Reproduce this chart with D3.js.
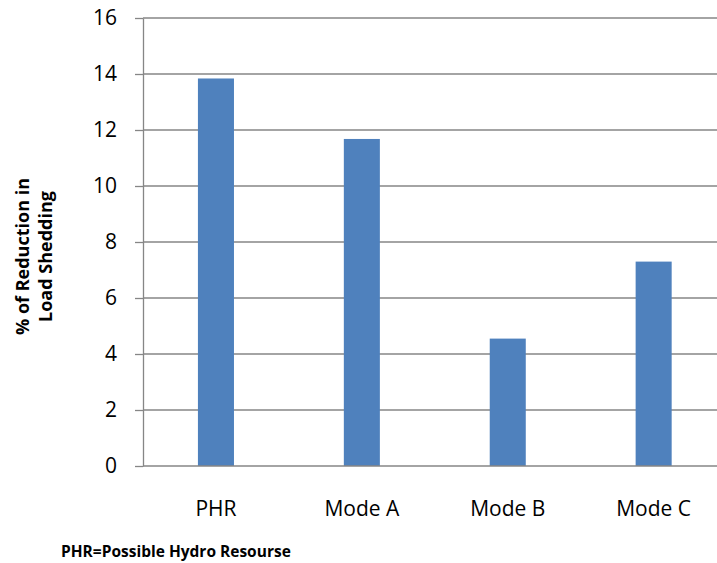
<!DOCTYPE html>
<html>
<head>
<meta charset="utf-8">
<script src="https://cdn.jsdelivr.net/npm/d3@7"></script>
<style>
  html, body { margin: 0; padding: 0; background: #fff; }
  svg { display: block; }
  text { font-family: "Open Sans", "Liberation Sans", sans-serif; fill: #000; }
</style>
</head>
<body>
<script>
// Reduction in load shedding per operating mode
const categories = ["PHR", "Mode A", "Mode B", "Mode C"];
const reduction = [13.84, 11.68, 4.55, 7.3];
const yTicks = [0, 2, 4, 6, 8, 10, 12, 14, 16];
const yTitleLines = ["% of Reduction in", "Load Shedding"];
const footnote = "PHR=Possible Hydro Resourse";

const width = 717, height = 563;
const plot = { left: 143, right: 726.6, top: 18, bottom: 466 };

const svg = d3.select("body").append("svg")
  .attr("width", width).attr("height", height);

const x = d3.scaleBand()
  .domain(categories)
  .range([plot.left, plot.right])
  .paddingInner(0.753)
  .paddingOuter(0.3765);

const y = d3.scaleLinear()
  .domain([0, 16])
  .range([plot.bottom, plot.top]);

const gridColor = "#868686";

// horizontal gridlines
svg.append("g")
  .selectAll("line")
  .data(yTicks.filter(d => d > 0))
  .join("line")
  .attr("x1", plot.left).attr("x2", width)
  .attr("y1", d => y(d)).attr("y2", d => y(d))
  .attr("stroke", gridColor).attr("stroke-width", 1.3);

// y axis with outward ticks
const yAxis = svg.append("g")
  .attr("transform", `translate(${plot.left},0)`)
  .call(d3.axisLeft(y).tickValues(yTicks).tickSize(8).tickPadding(18).tickSizeOuter(0));
yAxis.select(".domain").attr("stroke", gridColor).attr("stroke-width", 1.3);
yAxis.selectAll(".tick line").attr("stroke", gridColor).attr("stroke-width", 1.3);
yAxis.selectAll(".tick text")
  .attr("font-size", 21)
  .attr("font-family", "'Open Sans', sans-serif")
  .attr("fill", "#000");

// bars
svg.append("g")
  .selectAll("rect")
  .data(categories.map((c, i) => ({ c, v: reduction[i] })))
  .join("rect")
  .attr("x", d => x(d.c))
  .attr("width", x.bandwidth())
  .attr("y", d => y(d.v))
  .attr("height", d => y(0) - y(d.v))
  .attr("fill", "#4F81BD");

// x axis baseline and category labels
const xAxis = svg.append("g")
  .attr("transform", `translate(0,${plot.bottom})`)
  .call(d3.axisBottom(x).tickSize(0).tickPadding(35).tickSizeOuter(0));
xAxis.select(".domain").attr("stroke", gridColor).attr("stroke-width", 1.3)
  .attr("d", `M${plot.left},0H${width}`);
xAxis.selectAll(".tick text")
  .attr("font-size", 21)
  .attr("font-family", "'Open Sans', sans-serif")
  .attr("fill", "#000");

// y axis title (two lines, rotated)
const yTitle = svg.append("text")
  .attr("transform", "translate(29,256.5) rotate(-90)")
  .attr("text-anchor", "middle")
  .attr("font-size", 18)
  .attr("font-weight", "bold");
yTitle.selectAll("tspan")
  .data(yTitleLines)
  .join("tspan")
  .attr("x", 0)
  .attr("dy", (d, i) => i === 0 ? 0 : 23)
  .text(d => d);

// footnote
svg.append("text")
  .attr("x", 61).attr("y", 557)
  .attr("font-size", 15.5)
  .attr("font-weight", "bold")
  .text(footnote);
</script>
</body>
</html>
